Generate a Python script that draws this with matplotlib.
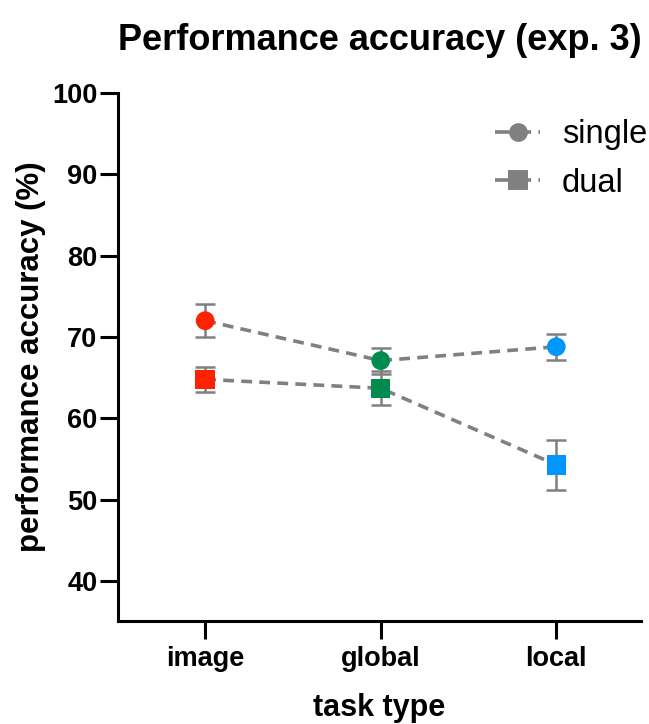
import matplotlib.pyplot as plt
import numpy as np

plt.rcParams['font.family'] = ['Liberation Sans', 'DejaVu Sans']

tasks = ['image', 'global', 'local']
colors = ['#ff2200', '#008c4f', '#0096ff']
single = [72.0, 67.1, 68.8]
single_err = [2.0, 1.6, 1.6]
dual = [64.8, 63.7, 54.3]
dual_err = [1.5, 2.1, 3.1]

gray = '#808080'
x = np.arange(len(tasks))

fig = plt.figure(figsize=(6.49, 7.24), dpi=100)
ax = fig.add_axes([0.182, 0.142, 0.805, 0.730])

for vals, errs, mk, ms, lab in [(single, single_err, 'o', 13.5, 'single'),
                                (dual, dual_err, 's', 14, 'dual')]:
    ax.errorbar(x, vals, yerr=errs, fmt='none', ecolor=gray, elinewidth=1.8,
                capsize=7, capthick=1.8, zorder=2)
    ax.plot(x, vals, '--', color=gray, lw=2.6, dashes=(3, 2), zorder=3)
    ax.scatter(x, vals, marker=mk, s=ms**2, c=colors, zorder=4, linewidths=0)
    ax.plot([], [], '--', color=gray, lw=2.6, dashes=(4, 2), marker=mk,
            ms=ms, markeredgewidth=0, label=lab)

ax.set_xlim(-0.496, 2.48)
ax.set_ylim(35.1, 100)
ax.set_yticks([40, 50, 60, 70, 80, 90, 100])
ax.set_xticks(x)
ax.set_xticklabels(tasks)
for s in ['top', 'right']:
    ax.spines[s].set_visible(False)
for s in ['left', 'bottom']:
    ax.spines[s].set_linewidth(2.2)
ax.tick_params(width=2.2, length=13, labelsize=19.5)
ax.tick_params(axis='y', pad=2)
ax.tick_params(axis='x', pad=5)
for t in ax.get_xticklabels() + ax.get_yticklabels():
    t.set_fontweight('bold')

ax.set_xlabel('task type', fontsize=22, fontweight='bold', labelpad=15)
ax.set_ylabel('performance accuracy (%)', fontsize=22.5, fontweight='bold', labelpad=4)
ax.set_title('Performance accuracy (exp. 3)', fontsize=26, fontweight='bold',
             pad=31)

ax.legend(loc='upper right', frameon=False, fontsize=23.5, handlelength=1.4,
          handletextpad=0.65, borderaxespad=0.0, labelspacing=0.55,
          bbox_to_anchor=(1.037, 0.975))

fig.savefig('out.png', dpi=100)
